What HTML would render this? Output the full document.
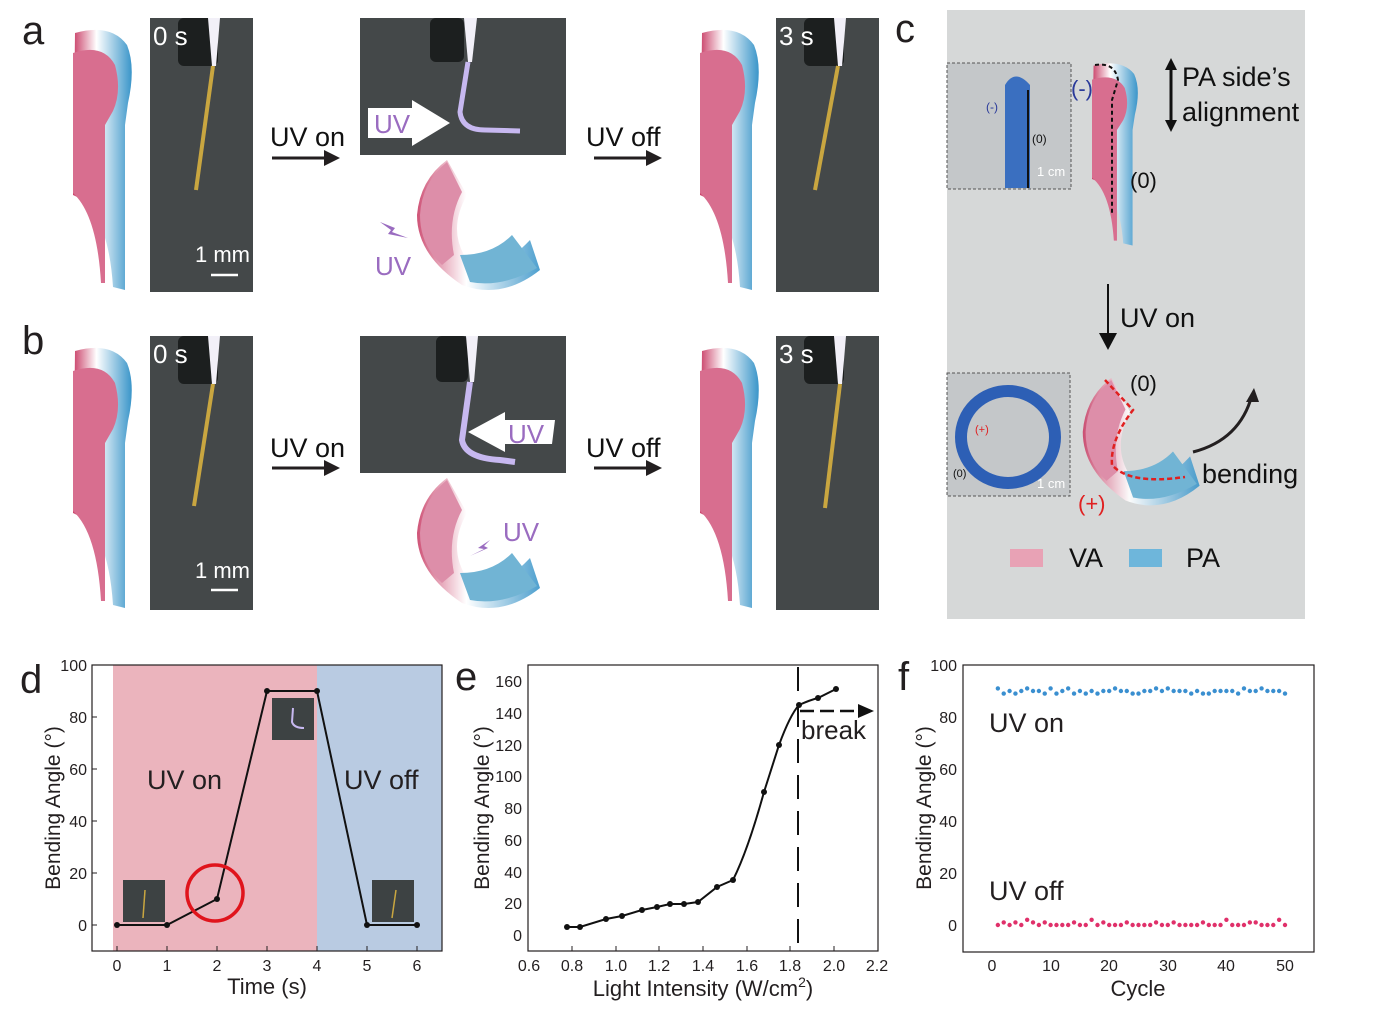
<!DOCTYPE html>
<html><head><meta charset="utf-8"><style>
html,body{margin:0;padding:0;background:#fff;}
svg{display:block;font-family:"Liberation Sans",Arial,sans-serif;}
</style></head><body>
<svg width="1386" height="1018" viewBox="0 0 1386 1018" xmlns="http://www.w3.org/2000/svg">
<defs>
<linearGradient id="bg1" x1="0" x2="1"><stop offset="0" stop-color="#c93f67"/><stop offset="0.4" stop-color="#fff"/><stop offset="1" stop-color="#3a95c9"/></linearGradient>
<g id="strip">
 <path d="M2,8 Q38,-2 54,20 Q63,42 55,78 L52,100 L52,265 L40,262 Q35,185 0,170 Z" fill="url(#bg1)"/>
 <path d="M0,28 Q30,18 42,40 Q49,66 40,86 L32,100 L32,258 L28,258 Q24,190 0,168 Z" fill="#d86e8f"/>
</g>
<g id="photo">
 <rect x="0" y="0" width="103" height="274" fill="#444849"/>
 <rect x="28" y="0" width="40" height="48" rx="6" fill="#1c1f1f"/>
 <polygon points="58,0 70,0 66,48 62,48" fill="#f2f0f8"/>
</g>
<g id="bent">
 <path d="M35,0 L55,35 Q35,70 55,100 Q80,120 118,80 L128,110 Q90,140 50,125 Q5,95 5,55 Q8,20 35,0 Z" fill="url(#bg1)" opacity="0.9"/>
 <path d="M35,2 L50,32 Q35,60 42,95 L30,105 Q8,85 8,55 Q10,22 35,2 Z" fill="#dd8ea9"/>
 <path d="M48,95 Q80,95 100,75 L125,108 Q90,128 58,122 Z" fill="#71b4d4"/>
</g>
</defs>

<!-- Panel a -->
<text x="22" y="44" font-size="40" fill="#231f20">a</text>
<use href="#strip" x="73" y="25"/>
<use href="#photo" x="150" y="18"/>
<line x1="213" y1="66" x2="196" y2="190" stroke="#c9a640" stroke-width="4"/>
<text x="153" y="45" font-size="26" fill="#fff">0 s</text>
<text x="195" y="262" font-size="22" fill="#fff">1 mm</text>
<line x1="211" y1="275" x2="238" y2="275" stroke="#fff" stroke-width="2.5"/>
<text x="270" y="146" font-size="27" fill="#111">UV on</text>
<line x1="272" y1="158" x2="328" y2="158" stroke="#231f20" stroke-width="3"/><polygon points="340,158 324,150 324,166" fill="#231f20"/>
<rect x="360" y="18" width="206" height="137" fill="#444849"/>
<rect x="430" y="18" width="34" height="44" rx="6" fill="#1c1f1f"/>
<polygon points="464,18 477,18 472,62 468,62" fill="#f2f0f8"/>
<path d="M468,62 L460,112 Q462,130 485,130 L520,131" stroke="#c7b8f0" stroke-width="5" fill="none"/>
<polygon points="368,108 412,108 412,100 450,123 412,146 412,138 368,138" fill="#fff"/>
<text x="374" y="133" font-size="26" fill="#9a6cc0">UV</text>
<use href="#bent" x="412" y="160"/>
<polygon points="380,222 395,228 392,232 408,238 388,234 391,230" fill="#9a6cc0"/>
<text x="375" y="275" font-size="26" fill="#9a6cc0">UV</text>
<text x="586" y="146" font-size="27" fill="#111">UV off</text>
<line x1="594" y1="158" x2="650" y2="158" stroke="#231f20" stroke-width="3"/><polygon points="662,158 646,150 646,166" fill="#231f20"/>
<use href="#strip" x="700" y="25"/>
<use href="#photo" x="776" y="18"/>
<line x1="838" y1="66" x2="815" y2="190" stroke="#c9a640" stroke-width="4"/>
<text x="779" y="45" font-size="26" fill="#fff">3 s</text>

<!-- Panel b -->
<text x="22" y="354" font-size="40" fill="#231f20">b</text>
<use href="#strip" x="73" y="343"/>
<use href="#photo" x="150" y="336"/>
<line x1="213" y1="384" x2="194" y2="506" stroke="#c9a640" stroke-width="4"/>
<text x="153" y="363" font-size="26" fill="#fff">0 s</text>
<text x="195" y="578" font-size="22" fill="#fff">1 mm</text>
<line x1="211" y1="590" x2="238" y2="590" stroke="#fff" stroke-width="2.5"/>
<text x="270" y="457" font-size="27" fill="#111">UV on</text>
<line x1="272" y1="468" x2="328" y2="468" stroke="#231f20" stroke-width="3"/><polygon points="340,468 324,460 324,476" fill="#231f20"/>
<rect x="360" y="336" width="206" height="137" fill="#444849"/>
<rect x="436" y="336" width="32" height="46" rx="6" fill="#1c1f1f"/>
<polygon points="466,336 478,336 474,382 470,382" fill="#f2f0f8"/>
<path d="M470,382 L462,440 Q465,458 500,460 L515,462" stroke="#c7b8f0" stroke-width="6" fill="none"/>
<polygon points="542,420 505,420 505,412 468,432 505,452 505,444 542,444 552,444 555,420" fill="#fff"/>
<text x="508" y="443" font-size="26" fill="#9a6cc0">UV</text>
<use href="#bent" x="412" y="478"/>
<polygon points="490,540 478,548 484,549 470,556 488,548 484,546" fill="#9a6cc0"/>
<text x="503" y="541" font-size="26" fill="#9a6cc0">UV</text>
<text x="586" y="457" font-size="27" fill="#111">UV off</text>
<line x1="594" y1="468" x2="650" y2="468" stroke="#231f20" stroke-width="3"/><polygon points="662,468 646,460 646,476" fill="#231f20"/>
<use href="#strip" x="700" y="343"/>
<use href="#photo" x="776" y="336"/>
<line x1="840" y1="384" x2="825" y2="508" stroke="#c9a640" stroke-width="4"/>
<text x="779" y="363" font-size="26" fill="#fff">3 s</text>

<!-- Panel c -->
<text x="895" y="42" font-size="40" fill="#231f20">c</text>
<rect x="947" y="10" width="358" height="609" fill="#d6d8d8"/>
<rect x="947" y="63" width="124" height="126" fill="#c4c7c9" stroke="#555" stroke-dasharray="3,2"/>
<path d="M1005,188 L1005,85 Q1015,68 1030,85 L1030,188 Z" fill="#3a6fc0"/>
<line x1="1028" y1="90" x2="1028" y2="188" stroke="#111" stroke-width="2"/>
<text x="986" y="111" font-size="12" fill="#2a3a9a">(-)</text>
<text x="1032" y="143" font-size="12" fill="#111">(0)</text>
<text x="1037" y="176" font-size="13" fill="#fff">1 cm</text>
<use href="#strip" transform="translate(1092,60) scale(0.78,0.7)"/>
<path d="M1095,65 Q1115,62 1118,80 L1112,100 L1112,215" stroke="#111" stroke-dasharray="4,3" stroke-width="2" fill="none"/>
<text x="1071" y="96" font-size="22" fill="#2a3a9a">(-)</text>
<text x="1130" y="188" font-size="22" fill="#111">(0)</text>
<line x1="1171" y1="65" x2="1171" y2="125" stroke="#111" stroke-width="3"/>
<polygon points="1171,58 1165,70 1177,70" fill="#111"/><polygon points="1171,132 1165,120 1177,120" fill="#111"/>
<text x="1182" y="86" font-size="27" fill="#111">PA side’s</text>
<text x="1182" y="121" font-size="27" fill="#111">alignment</text>
<line x1="1108" y1="284" x2="1108" y2="335" stroke="#111" stroke-width="2"/>
<polygon points="1108,350 1099,333 1117,333" fill="#111"/>
<text x="1120" y="327" font-size="27" fill="#111">UV on</text>
<rect x="947" y="373" width="123" height="123" fill="#c4c7c9" stroke="#555" stroke-dasharray="3,2"/>
<ellipse cx="1008" cy="437" rx="47" ry="46" fill="none" stroke="#2d5fb5" stroke-width="12"/>
<text x="975" y="433" font-size="11" fill="#e02020">(+)</text>
<text x="953" y="477" font-size="11" fill="#111">(0)</text>
<text x="1037" y="488" font-size="13" fill="#fff">1 cm</text>
<use href="#bent" transform="translate(1078,378) scale(0.95,0.98)"/>
<path d="M1105,380 L1133,410 Q1110,440 1112,465 Q1130,485 1185,477" stroke="#e02020" stroke-dasharray="5,3" stroke-width="2.5" fill="none"/>
<text x="1130" y="391" font-size="22" fill="#111">(0)</text>
<text x="1078" y="511" font-size="22" fill="#e02020">(+)</text>
<path d="M1193,452 Q1240,440 1252,395" stroke="#231f20" stroke-width="3" fill="none"/>
<polygon points="1254,388 1246,402 1259,402" fill="#231f20"/>
<text x="1202" y="483" font-size="27" fill="#111">bending</text>
<rect x="1010" y="549" width="33" height="18" fill="#e8a2b5"/>
<text x="1069" y="567" font-size="27" fill="#111">VA</text>
<rect x="1129" y="549" width="33" height="18" fill="#6eb6db"/>
<text x="1186" y="567" font-size="27" fill="#111">PA</text>

<!-- Panel d -->
<text x="20" y="693" font-size="40" fill="#231f20">d</text>
<rect x="113" y="665" width="204" height="286" fill="#ebb4bd"/>
<rect x="317" y="665" width="125" height="286" fill="#b9cbe2"/>
<rect x="92" y="665" width="350" height="286" fill="none" stroke="#231f20" stroke-width="1.2"/>
<g font-size="16" fill="#231f20" text-anchor="end">
<text x="87" y="671">100</text><text x="87" y="723">80</text><text x="87" y="775">60</text><text x="87" y="827">40</text><text x="87" y="879">20</text><text x="87" y="931">0</text></g>
<g stroke="#231f20"><line x1="92" y1="665" x2="97" y2="665"/><line x1="92" y1="717" x2="97" y2="717"/><line x1="92" y1="769" x2="97" y2="769"/><line x1="92" y1="821" x2="97" y2="821"/><line x1="92" y1="873" x2="97" y2="873"/><line x1="92" y1="925" x2="97" y2="925"/>
<line x1="117" y1="951" x2="117" y2="946"/><line x1="167" y1="951" x2="167" y2="946"/><line x1="217" y1="951" x2="217" y2="946"/><line x1="267" y1="951" x2="267" y2="946"/><line x1="317" y1="951" x2="317" y2="946"/><line x1="367" y1="951" x2="367" y2="946"/><line x1="417" y1="951" x2="417" y2="946"/></g>
<g font-size="16" fill="#231f20" text-anchor="middle"><text x="117" y="971">0</text><text x="167" y="971">1</text><text x="217" y="971">2</text><text x="267" y="971">3</text><text x="317" y="971">4</text><text x="367" y="971">5</text><text x="417" y="971">6</text></g>
<text x="267" y="994" font-size="22" fill="#231f20" text-anchor="middle">Time (s)</text>
<text transform="translate(60,808) rotate(-90)" font-size="21" fill="#231f20" text-anchor="middle">Bending Angle (°)</text>
<text x="147" y="789" font-size="27" fill="#231f20">UV on</text>
<text x="344" y="789" font-size="27" fill="#231f20">UV off</text>
<rect x="123" y="880" width="42" height="42" fill="#3d4243"/><line x1="145" y1="890" x2="143" y2="918" stroke="#c9a640" stroke-width="1.5"/>
<rect x="272" y="698" width="42" height="42" fill="#3d4243"/><path d="M293,708 L292,722 Q294,728 304,728" stroke="#c7b8f0" stroke-width="2" fill="none"/>
<rect x="372" y="880" width="42" height="42" fill="#3d4243"/><line x1="396" y1="890" x2="392" y2="918" stroke="#c9a640" stroke-width="1.5"/>
<polyline points="117,925 167,925 217,899 267,691 317,691 367,925 417,925" fill="none" stroke="#111" stroke-width="2"/>
<g fill="#111"><circle cx="117" cy="925" r="3"/><circle cx="167" cy="925" r="3"/><circle cx="217" cy="899" r="3"/><circle cx="267" cy="691" r="3"/><circle cx="317" cy="691" r="3"/><circle cx="367" cy="925" r="3"/><circle cx="417" cy="925" r="3"/></g>
<ellipse cx="215" cy="893" rx="28" ry="28" fill="none" stroke="#e0141c" stroke-width="3.5"/>

<!-- Panel e -->
<text x="455" y="690" font-size="40" fill="#231f20">e</text>
<rect x="528" y="665" width="350" height="286" fill="none" stroke="#231f20" stroke-width="1.2"/>
<g font-size="16" fill="#231f20" text-anchor="end">
<text x="522" y="687">160</text><text x="522" y="719">140</text><text x="522" y="751">120</text><text x="522" y="782">100</text><text x="522" y="814">80</text><text x="522" y="846">60</text><text x="522" y="878">40</text><text x="522" y="909">20</text><text x="522" y="941">0</text></g>
<g font-size="16" fill="#231f20" text-anchor="middle"><text x="529" y="971">0.6</text><text x="572" y="971">0.8</text><text x="616" y="971">1.0</text><text x="659" y="971">1.2</text><text x="703" y="971">1.4</text><text x="747" y="971">1.6</text><text x="790" y="971">1.8</text><text x="834" y="971">2.0</text><text x="877" y="971">2.2</text></g>
<g stroke="#231f20"><line x1="572" y1="951" x2="572" y2="946"/><line x1="616" y1="951" x2="616" y2="946"/><line x1="659" y1="951" x2="659" y2="946"/><line x1="703" y1="951" x2="703" y2="946"/><line x1="747" y1="951" x2="747" y2="946"/><line x1="790" y1="951" x2="790" y2="946"/><line x1="834" y1="951" x2="834" y2="946"/></g>
<text x="703" y="996" font-size="22" fill="#231f20" text-anchor="middle">Light Intensity (W/cm<tspan font-size="14" dy="-9">2</tspan><tspan dy="9">)</tspan></text>
<text transform="translate(489,808) rotate(-90)" font-size="21" fill="#231f20" text-anchor="middle">Bending Angle (°)</text>
<path d="M567,927 L580,927 L606,919 L622,916 L642,910 L657,907 L670,904 L684,904 L698,902 L717,887 L733,880 Q748,850 764,792 L779,745 Q790,715 799,705 Q810,700 818,698 L836,689" fill="none" stroke="#111" stroke-width="2"/>
<g fill="#111"><circle cx="567" cy="927" r="3"/><circle cx="580" cy="927" r="3"/><circle cx="606" cy="919" r="3"/><circle cx="622" cy="916" r="3"/><circle cx="642" cy="910" r="3"/><circle cx="657" cy="907" r="3"/><circle cx="670" cy="904" r="3"/><circle cx="684" cy="904" r="3"/><circle cx="698" cy="902" r="3"/><circle cx="717" cy="887" r="3"/><circle cx="733" cy="880" r="3"/><circle cx="764" cy="792" r="3"/><circle cx="779" cy="745" r="3"/><circle cx="799" cy="705" r="3"/><circle cx="818" cy="698" r="3"/><circle cx="836" cy="689" r="3"/></g>
<line x1="798" y1="667" x2="798" y2="950" stroke="#111" stroke-width="2" stroke-dasharray="24,12"/>
<line x1="800" y1="711" x2="860" y2="711" stroke="#111" stroke-width="2.5" stroke-dasharray="14,6"/>
<polygon points="874,711 858,704 858,718" fill="#111"/>
<text x="801" y="739" font-size="26" fill="#231f20">break</text>

<!-- Panel f -->
<text x="898" y="690" font-size="40" fill="#231f20">f</text>
<rect x="963" y="665" width="351" height="287" fill="none" stroke="#231f20" stroke-width="1.2"/>
<g font-size="16" fill="#231f20" text-anchor="end">
<text x="957" y="671">100</text><text x="957" y="723">80</text><text x="957" y="775">60</text><text x="957" y="827">40</text><text x="957" y="879">20</text><text x="957" y="931">0</text></g>
<g font-size="16" fill="#231f20" text-anchor="middle"><text x="992" y="971">0</text><text x="1051" y="971">10</text><text x="1109" y="971">20</text><text x="1168" y="971">30</text><text x="1226" y="971">40</text><text x="1285" y="971">50</text></g>
<text x="1138" y="996" font-size="22" fill="#231f20" text-anchor="middle">Cycle</text>
<text transform="translate(931,808) rotate(-90)" font-size="21" fill="#231f20" text-anchor="middle">Bending Angle (°)</text>
<text x="989" y="732" font-size="27" fill="#231f20">UV on</text>
<text x="989" y="900" font-size="27" fill="#231f20">UV off</text>
<g id="dots"></g>
</svg>
<script>
var g=document.getElementById('dots'),s='';
var on=[91,89,90,89,90,91,90,90,89,91,89,90,91,89,90,89,90,89,90,90,91,90,90,89,89,90,90,91,90,91,90,90,90,89,90,89,89,90,90,90,90,89,91,90,90,91,90,90,90,89];
var off=[0,1,0,1,0,2,1,0,1,0,0,0,0,1,0,0,2,0,1,0,0,0,1,0,0,0,0,1,0,0,1,0,0,0,0,1,0,0,0,2,0,0,0,1,1,0,0,0,2,0];
for(var i=0;i<50;i++){var x=992+(i+1)*5.86;
s+='<circle cx="'+x+'" cy="'+(925-on[i]*2.6)+'" r="2.2" fill="#3a8fd0"/>';
s+='<circle cx="'+x+'" cy="'+(925-off[i]*2.6)+'" r="2.2" fill="#e0306a"/>';}
g.innerHTML=s;
</script>
</body></html>
